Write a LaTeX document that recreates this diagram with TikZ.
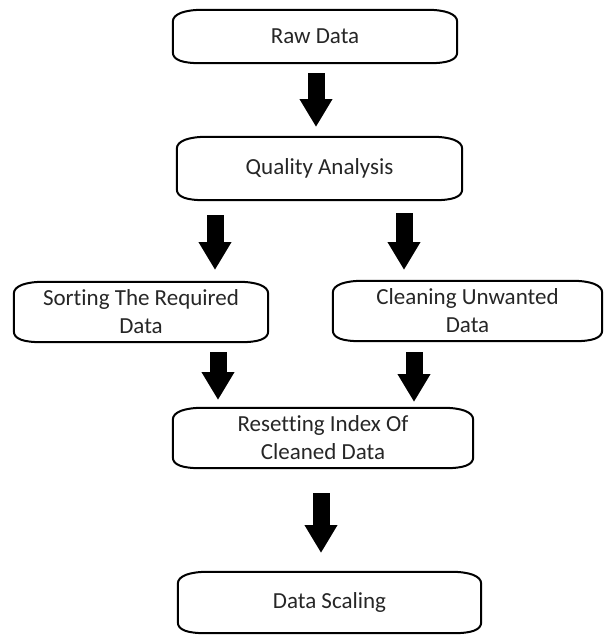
\documentclass[tikz,border=0pt]{standalone}
\usepackage{fontspec}
\setmainfont{Carlito}[Ligatures={NoCommon}]
\usetikzlibrary{arrows.meta,calc}
\tikzset{
  nodebox/.style={draw=none, inner sep=0pt, align=center, text=black!85,
    font=\fontsize{23}{28}\selectfont},
  boxline/.style={draw=black, line width=2pt, line join=round},
  blockarrow/.style={draw=black, line width=17pt, line cap=butt,
    -{Triangle[length=28pt,width=31pt]}},
}
\newcommand\scrollbox[1]{%
  \draw[boxline]
    ([xshift=30pt]#1.north west) -- ([xshift=-30pt]#1.north east)
    .. controls ([xshift=-12pt]#1.north east) and ([yshift=-4pt]#1.north east) .. ([yshift=-12pt]#1.north east)
    -- ([yshift=11pt]#1.south east)
    .. controls ([yshift=3pt]#1.south east) and ([xshift=-10pt]#1.south east) .. ([xshift=-28pt]#1.south east)
    -- ([xshift=28pt]#1.south west)
    .. controls ([xshift=10pt]#1.south west) and ([yshift=3pt]#1.south west) .. ([yshift=11pt]#1.south west)
    -- ([yshift=-12pt]#1.north west)
    .. controls ([yshift=-4pt]#1.north west) and ([xshift=12pt]#1.north west) .. cycle;}
\begin{document}
\begin{tikzpicture}[x=1pt,y=-1pt]
\useasboundingbox (0,0) rectangle (607,635);
% boxes
\node[nodebox, minimum width=284pt, minimum height=53pt] (raw) at (315,36.5) {Raw Data};
\node[nodebox, minimum width=285pt, minimum height=63pt] (qa) at (319.5,168.5) {Quality Analysis};
\node[nodebox, minimum width=254pt, minimum height=60pt] (sort) at (141,312) {Sorting The Required\\Data};
\node[nodebox, minimum width=269pt, minimum height=60pt] (clean) at (467.5,311) {Cleaning Unwanted\\Data};
\node[nodebox, minimum width=300pt, minimum height=60pt] (reset) at (323,438) {Resetting Index Of\\Cleaned Data};
\node[nodebox, minimum width=303pt, minimum height=61pt] (scale) at (329.5,602.5) {Data Scaling};
\foreach \n in {raw,qa,sort,clean,reset,scale} {\scrollbox{\n}}
% arrow ends
\coordinate (a1s) at (316,73);  \coordinate (a1e) at (316,127);
\coordinate (a2s) at (215,215); \coordinate (a2e) at (215,270);
\coordinate (a3s) at (404,213); \coordinate (a3e) at (404,270);
\coordinate (a4s) at (218,352); \coordinate (a4e) at (218,400);
\coordinate (a5s) at (414,352); \coordinate (a5e) at (414,402);
\coordinate (a6s) at (321,493); \coordinate (a6e) at (321,553);
\draw[blockarrow] (a1s) -- (a1e);
\draw[blockarrow] (a2s) -- (a2e);
\draw[blockarrow] (a3s) -- (a3e);
\draw[blockarrow] (a4s) -- (a4e);
\draw[blockarrow] (a5s) -- (a5e);
\draw[blockarrow] (a6s) -- (a6e);
\end{tikzpicture}
\end{document}
